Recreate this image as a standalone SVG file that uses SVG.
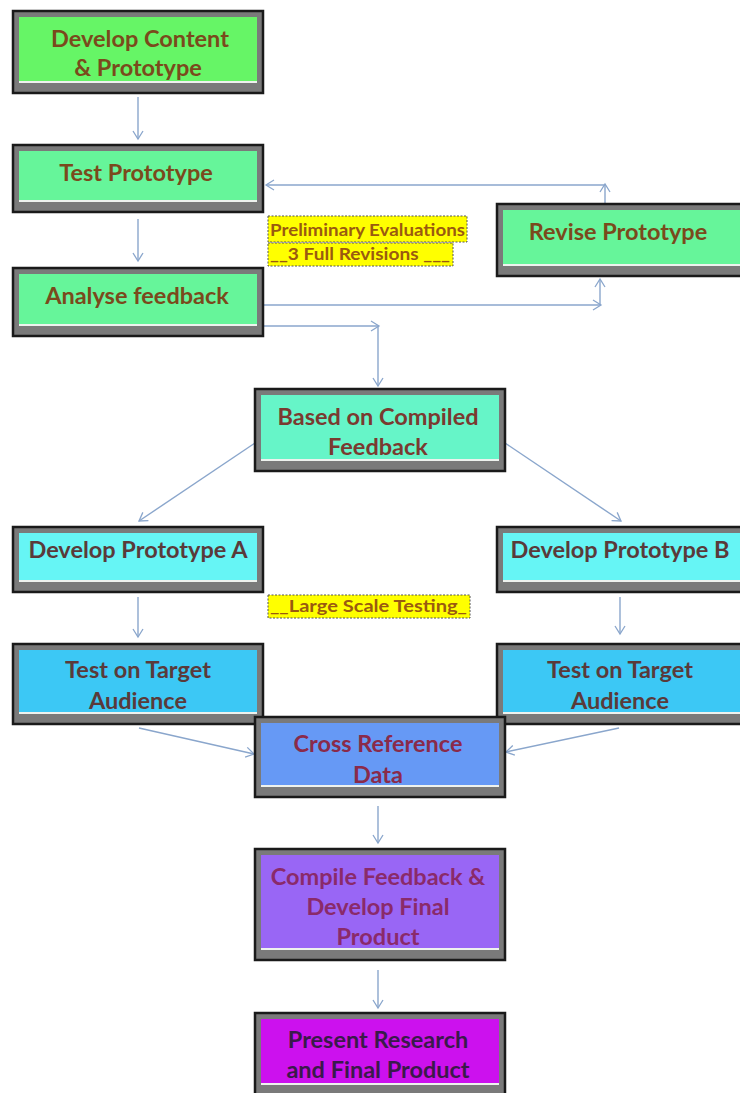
<svg xmlns="http://www.w3.org/2000/svg" width="740" height="1093" viewBox="0 0 740 1093">
<style>
.fr{fill:#7a7a7a;stroke:#1a1a1a;stroke-width:2.5}
.hl{fill:#eef2ee}
.t{font-family:Lato,"Liberation Sans",sans-serif;font-weight:700;font-size:23.5px;text-anchor:middle}
.c{fill:none;stroke:#8aa6cc;stroke-width:1.4}
.lb{fill:#ffff00;stroke:#555;stroke-width:1;stroke-dasharray:2 1.5}
.lt{font-family:Lato,"Liberation Sans",sans-serif;font-weight:700;font-size:17px;fill:#9a5a10}
</style>
<defs>
<marker id="ah" markerWidth="12" markerHeight="12" refX="9" refY="6" orient="auto" markerUnits="userSpaceOnUse">
<path d="M1,1 L9,6 L1,11" fill="none" stroke="#8aa6cc" stroke-width="1.3"/>
</marker>
</defs>

<g id="connectors">
<line class="c" x1="138" y1="97" x2="138" y2="139" marker-end="url(#ah)"/>
<line class="c" x1="138" y1="219" x2="138" y2="261" marker-end="url(#ah)"/>
<line class="c" x1="605" y1="204" x2="605" y2="184" marker-end="url(#ah)"/>
<line class="c" x1="605" y1="185" x2="266" y2="185" marker-end="url(#ah)"/>
<line class="c" x1="263" y1="305" x2="601" y2="305" marker-end="url(#ah)"/>
<line class="c" x1="600" y1="305" x2="600" y2="279" marker-end="url(#ah)"/>
<line class="c" x1="263" y1="326" x2="379" y2="326" marker-end="url(#ah)"/>
<line class="c" x1="378" y1="326" x2="378" y2="386" marker-end="url(#ah)"/>
<line class="c" x1="255" y1="443" x2="139" y2="521" marker-end="url(#ah)"/>
<line class="c" x1="505" y1="443" x2="621" y2="521" marker-end="url(#ah)"/>
<line class="c" x1="138" y1="597" x2="138" y2="637" marker-end="url(#ah)"/>
<line class="c" x1="620" y1="597" x2="620" y2="634" marker-end="url(#ah)"/>
<line class="c" x1="139" y1="728" x2="254" y2="754" marker-end="url(#ah)"/>
<line class="c" x1="619" y1="728" x2="506" y2="752" marker-end="url(#ah)"/>
<line class="c" x1="378" y1="806" x2="378" y2="843" marker-end="url(#ah)"/>
<line class="c" x1="378" y1="970" x2="378" y2="1008" marker-end="url(#ah)"/>
</g>

<g id="n1">
<rect class="fr" x="13" y="11" width="250" height="82"/>
<rect x="19" y="17" width="238" height="66" fill="#66f566"/>
<rect class="hl" x="19" y="81" width="238" height="2"/>
<text class="t" fill="#7a4a1c" x="140" y="47">Develop Content</text>
<text class="t" fill="#7a4a1c" x="138" y="76">&amp; Prototype</text>
</g>

<g id="n2">
<rect class="fr" x="13" y="145" width="250" height="67"/>
<rect x="19" y="151" width="238" height="51" fill="#66f59a"/>
<rect class="hl" x="19" y="200" width="238" height="2"/>
<text class="t" fill="#7a4a1c" x="136" y="181">Test Prototype</text>
</g>

<g id="n3">
<rect class="fr" x="13" y="268" width="250" height="68"/>
<rect x="19" y="274" width="238" height="52" fill="#66f59a"/>
<rect class="hl" x="19" y="324" width="238" height="2"/>
<text class="t" fill="#7a4a1c" x="137" y="304">Analyse feedback</text>
</g>

<g id="n4">
<rect class="fr" x="497" y="204" width="250" height="72"/>
<rect x="503" y="210" width="238" height="56" fill="#66f59a"/>
<rect class="hl" x="503" y="264" width="238" height="2"/>
<text class="t" fill="#7a4a1c" x="618" y="240">Revise Prototype</text>
</g>

<g id="lab1">
<rect class="lb" x="268" y="216" width="199" height="26"/>
<text class="lt" x="270" y="236" textLength="195" lengthAdjust="spacingAndGlyphs">Preliminary Evaluations</text>
</g>
<g id="lab2">
<rect class="lb" x="268" y="243" width="185" height="23"/>
<text class="lt" x="270" y="260" xml:space="preserve" textLength="180" lengthAdjust="spacingAndGlyphs">__3 Full Revisions ___</text>
</g>

<g id="n5">
<rect class="fr" x="255" y="389" width="250" height="82"/>
<rect x="261" y="395" width="238" height="66" fill="#66f5c8"/>
<rect class="hl" x="261" y="459" width="238" height="2"/>
<text class="t" fill="#7a3a30" x="378" y="425">Based on Compiled</text>
<text class="t" fill="#7a3a30" x="378" y="455">Feedback</text>
</g>

<g id="n6">
<rect class="fr" x="13" y="527" width="250" height="65"/>
<rect x="19" y="533" width="238" height="49" fill="#66f5f5"/>
<rect class="hl" x="19" y="580" width="238" height="2"/>
<text class="t" fill="#5a3a3a" x="138" y="558">Develop Prototype A</text>
</g>

<g id="n7">
<rect class="fr" x="497" y="527" width="250" height="65"/>
<rect x="503" y="533" width="238" height="49" fill="#66f5f5"/>
<rect class="hl" x="503" y="580" width="238" height="2"/>
<text class="t" fill="#5a3a3a" x="620" y="558">Develop Prototype B</text>
</g>

<g id="lab3">
<rect class="lb" x="268" y="595" width="202" height="23"/>
<text class="lt" x="270" y="612" textLength="197" lengthAdjust="spacingAndGlyphs">__Large Scale Testing_</text>
</g>

<g id="n8">
<rect class="fr" x="13" y="644" width="250" height="80"/>
<rect x="19" y="650" width="238" height="64" fill="#3cc8f5"/>
<rect class="hl" x="19" y="712" width="238" height="2"/>
<text class="t" fill="#5a3a3a" x="138" y="678">Test on Target</text>
<text class="t" fill="#5a3a3a" x="138" y="709">Audience</text>
</g>

<g id="n9">
<rect class="fr" x="497" y="644" width="250" height="80"/>
<rect x="503" y="650" width="238" height="64" fill="#3cc8f5"/>
<rect class="hl" x="503" y="712" width="238" height="2"/>
<text class="t" fill="#5a3a3a" x="620" y="678">Test on Target</text>
<text class="t" fill="#5a3a3a" x="620" y="709">Audience</text>
</g>

<g id="n10">
<rect class="fr" x="255" y="717" width="250" height="80"/>
<rect x="261" y="723" width="238" height="64" fill="#6699f5"/>
<rect class="hl" x="261" y="785" width="238" height="2"/>
<text class="t" fill="#8a2a4a" x="378" y="752">Cross Reference</text>
<text class="t" fill="#8a2a4a" x="378" y="783">Data</text>
</g>

<g id="n11">
<rect class="fr" x="255" y="849" width="250" height="111"/>
<rect x="261" y="855" width="238" height="95" fill="#9966f5"/>
<rect class="hl" x="261" y="948" width="238" height="2"/>
<text class="t" fill="#8a2a6a" x="378" y="885">Compile Feedback &amp;</text>
<text class="t" fill="#8a2a6a" x="378" y="915">Develop Final</text>
<text class="t" fill="#8a2a6a" x="378" y="945">Product</text>
</g>

<g id="n12">
<rect class="fr" x="255" y="1013" width="250" height="84"/>
<rect x="261" y="1019" width="238" height="66" fill="#cc11ee"/>
<rect class="hl" x="261" y="1083" width="238" height="2"/>
<text class="t" fill="#3a1a4a" x="378" y="1048">Present Research</text>
<text class="t" fill="#3a1a4a" x="378" y="1078">and Final Product</text>
</g>
</svg>
